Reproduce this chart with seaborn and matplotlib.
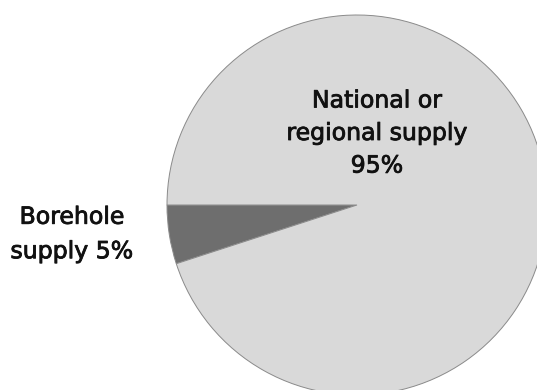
import matplotlib
matplotlib.use("Agg")
import matplotlib.pyplot as plt
import matplotlib.patheffects as pe
import seaborn as sns

sources = ["Borehole supply", "National or regional supply"]
shares = [5, 95]
label_lines = [["Borehole", "supply {}%"], ["National or", "regional supply", "{}%"]]
colors = ["#6e6e6e", "#d9d9d9"]

sns.set_theme(style="white")
plt.rcParams["font.family"] = ["DejaVu Sans"]

W, H = 537, 390
fig = plt.figure(figsize=(W / 100, H / 100), dpi=100)
ax = fig.add_axes([0, 0, 1, 1])

# pie centre and radius in pixels
cx, cy, r = 357, 205, 190
ax.pie(shares, colors=colors, startangle=180, counterclock=True,
       radius=1.0, center=(0, 0),
       wedgeprops=dict(edgecolor="#8a8a8a", linewidth=0.7))
ax.set_xlim(-cx / r, (W - cx) / r)
ax.set_ylim(-(H - cy) / r, cy / r)
ax.set_aspect("auto")
ax.axis("off")

def px(x, y):
    return (x - cx) / r, (cy - y) / r

bold = [pe.withStroke(linewidth=0.6, foreground="#111111")]
bx, by = px(72, 234)
ax.text(bx, by, "\n".join(label_lines[0]).format(shares[0]),
        ha="center", va="center", fontsize=17, color="#111111",
        linespacing=1.55, path_effects=bold)
nx, ny = px(377, 133)
ax.text(nx, ny, "\n".join(label_lines[1]).format(shares[1]),
        ha="center", va="center", fontsize=17, color="#111111",
        linespacing=1.45, path_effects=bold)

fig.savefig("out.png", dpi=100)
